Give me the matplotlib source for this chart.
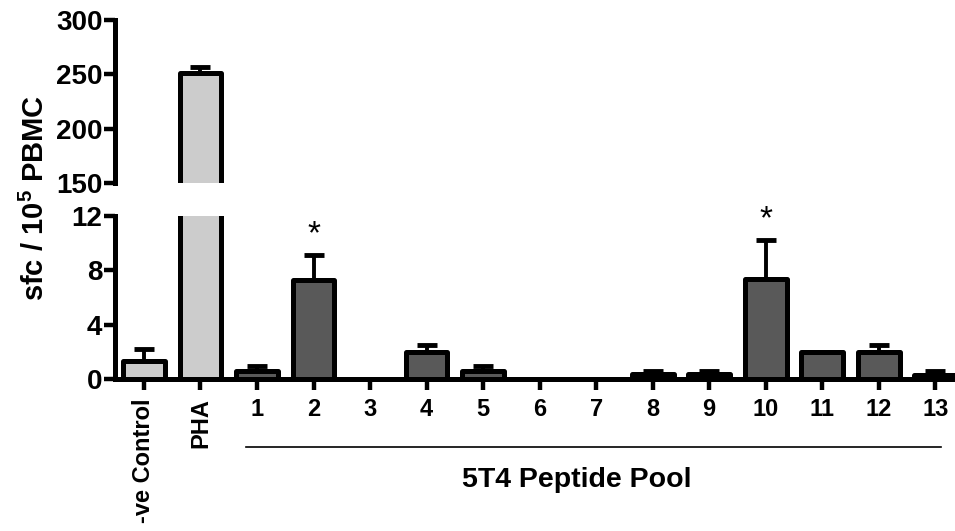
import numpy as np
import matplotlib
matplotlib.use("Agg")
import matplotlib.pyplot as plt
import matplotlib.transforms as mtrans

# data
labels = ['-ve Control', 'PHA', '1', '2', '3', '4', '5', '6', '7',
          '8', '9', '10', '11', '12', '13']
means = [1.3, 251, 0.6, 7.3, 0, 2.0, 0.6, 0, 0, 0.35, 0.35, 7.35, 2.0, 2.0, 0.3]
errs = [0.9, 6, 0.35, 1.8, 0, 0.5, 0.35, 0, 0, 0.25, 0.25, 2.85, 0, 0.5, 0.3]
group = ['ctrl', 'ctrl'] + ['pool'] * 13
star_idx = [3, 11]

plt.rcParams['font.family'] = 'Liberation Sans'
plt.rcParams['font.weight'] = 'bold'
plt.rcParams['mathtext.fontset'] = 'custom'
plt.rcParams['mathtext.rm'] = 'Liberation Sans:bold'
plt.rcParams['mathtext.default'] = 'rm'

cols = {'ctrl': '#cccccc', 'pool': '#595959'}
x = np.arange(len(labels))
bar_colors = [cols[g] for g in group]

fig = plt.figure(figsize=(9.55, 5.31), dpi=100)
# broken y axis: upper and lower panels
ax_top = fig.add_axes([0.1204, 1 - 183 / 531, 0.8796, 163 / 531])
ax_bot = fig.add_axes([0.1204, 1 - 379 / 531, 0.8796, 163 / 531])

xlim = (-0.513, 14.35)
has_err = [i for i in range(len(x)) if errs[i] > 0]
for ax in (ax_top, ax_bot):
    ax.bar(x, means, width=0.74, color=bar_colors, edgecolor='black',
           linewidth=3.6, joinstyle='round', zorder=2)
    ax.errorbar(x[has_err], [means[i] for i in has_err],
                yerr=[[0] * len(has_err), [errs[i] for i in has_err]],
                fmt='none', ecolor='black', elinewidth=2.8, capsize=7.5,
                capthick=3.5, zorder=1)
    ax.set_xlim(*xlim)
    for s in ('top', 'right'):
        ax.spines[s].set_visible(False)
    ax.spines['left'].set_linewidth(3.6)
    ax.spines['bottom'].set_linewidth(3.6)
    ax.tick_params(axis='y', direction='out', length=8, width=3.2, labelsize=20, pad=1)
    ax.tick_params(axis='x', direction='out', length=8, width=3.2, labelsize=17, pad=6)

ax_top.set_ylim(150, 300)
ax_top.set_yticks([150, 200, 250, 300])
ax_top.spines['bottom'].set_visible(False)
ax_top.tick_params(axis='x', bottom=False, labelbottom=False)

ax_bot.set_ylim(0, 12)
ax_bot.set_yticks([0, 4, 8, 12])
ax_bot.set_xticks(x)
ax_bot.set_xticklabels(labels)
for i, t in enumerate(ax_bot.get_xticklabels()):
    if group[i] == 'ctrl':
        t.set_rotation(90)
        t.set_va('top')
        t.set_ha('center')

# significance stars
for i in star_idx:
    ax_bot.text(x[i], means[i] + errs[i] + 0.4, '*', ha='center', va='bottom',
                fontsize=24, fontweight='normal')

# peptide pool bracket
trans = mtrans.blended_transform_factory(ax_bot.transData, ax_bot.transAxes)
ax_bot.plot([1.8, 14.1], [-0.417, -0.417], color='black', lw=1.2,
            transform=trans, clip_on=False)
ax_bot.text(7.66, -0.62, '5T4 Peptide Pool', transform=trans, ha='center',
            va='center', fontsize=20.5)

fig.text(0.037, 1 - 198 / 531, r'sfc / 10$^{5}$ PBMC', rotation=90,
         ha='center', va='center', fontsize=21)

fig.savefig('out.png', dpi=100)
